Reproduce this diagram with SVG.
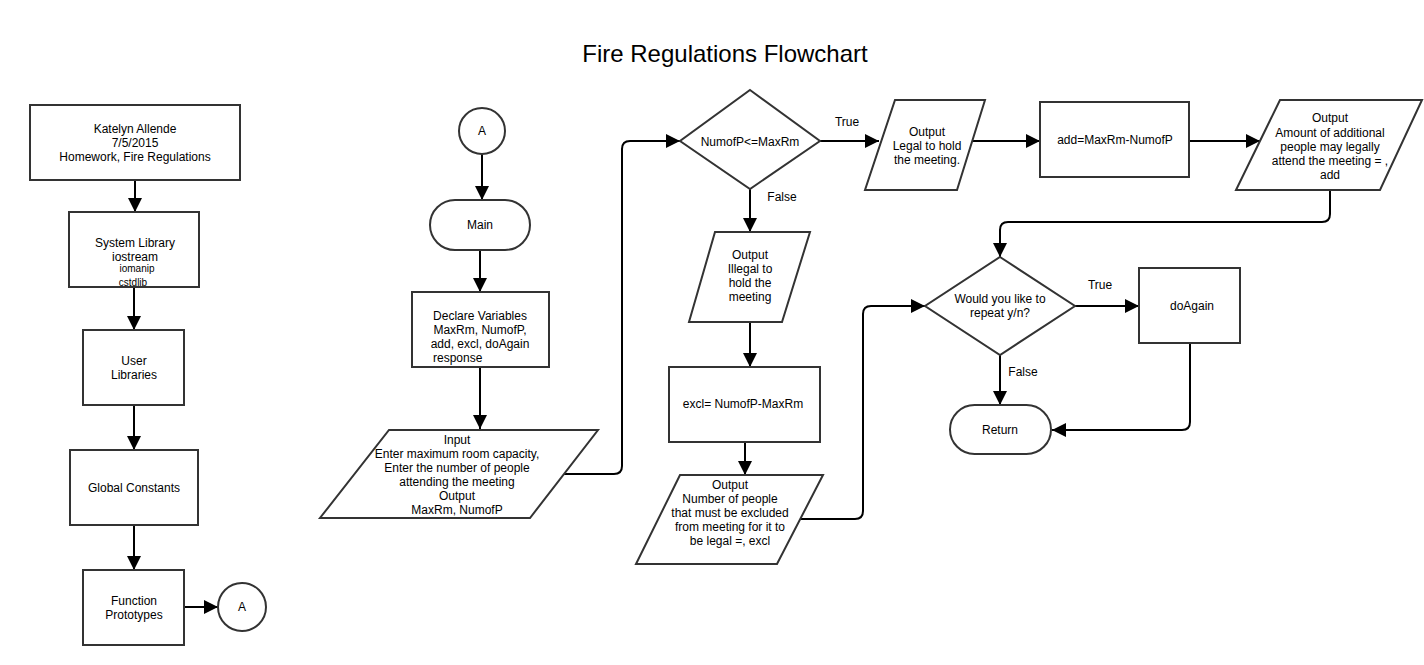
<svg xmlns="http://www.w3.org/2000/svg" width="1424" height="665" viewBox="0 0 1424 665">
<defs>
<marker id="ah" markerUnits="userSpaceOnUse" markerWidth="14" markerHeight="14" viewBox="0 0 14 14" refX="14" refY="7" orient="auto">
<path d="M0,0 L14,7 L0,14 Z" fill="#000"/>
</marker>
</defs>
<style>
.s{fill:#fff;stroke:#333;stroke-width:2}
.c{fill:none;stroke:#000;stroke-width:2;marker-end:url(#ah)}
text{font-family:"Liberation Sans",Arial,sans-serif;font-size:12px;fill:#000;text-anchor:middle}
.sm{font-size:10px}
.t{font-size:24px}
</style>
<rect width="1424" height="665" fill="#fff"/>
<text class="t" x="725" y="62">Fire Regulations Flowchart</text>

<g id="connectors">
<path class="c" d="M135,180 V212"/>
<path class="c" d="M134,287 V330"/>
<path class="c" d="M134,405 V450"/>
<path class="c" d="M134,525 V570"/>
<path class="c" d="M184,607 H218"/>
<path class="c" d="M482,154 V200"/>
<path class="c" d="M480,250 V292"/>
<path class="c" d="M480,367 V429"/>
<path class="c" d="M563,474 H614 Q622,474 622,466 V149 Q622,141 630,141 H680"/>
<path class="c" d="M820,141 H879"/>
<path class="c" d="M972,141 H1040"/>
<path class="c" d="M1189,141 H1260"/>
<path class="c" d="M1330,190 V214 Q1330,222 1322,222 H1008 Q1000,222 1000,230 V257"/>
<path class="c" d="M750,189 V232"/>
<path class="c" d="M750,322 V367"/>
<path class="c" d="M745,442 V475"/>
<path class="c" d="M800,519 H855 Q863,519 863,511 V314 Q863,306 871,306 H925"/>
<path class="c" d="M1075,306 H1139"/>
<path class="c" d="M1000,355 V405"/>
<path class="c" d="M1190,343 V422 Q1190,430 1182,430 H1052"/>
<text x="847" y="126">True</text>
<text x="782" y="201">False</text>
<text x="1100" y="289">True</text>
<text x="1023" y="376">False</text>
</g>

<g id="header">
<rect class="s" x="30" y="105" width="210" height="75"/>
<text x="135" y="133">Katelyn Allende</text>
<text x="135" y="147">7/5/2015</text>
<text x="135" y="161">Homework, Fire Regulations</text>
</g>
<g id="syslib">
<rect class="s" x="69" y="212" width="130" height="75"/>
<text x="135" y="247">System Library</text>
<text x="135" y="261">iostream</text>
<text class="sm" x="137" y="272">iomanip</text>
<text class="sm" x="133" y="286">cstdlib</text>
</g>
<g id="userlib">
<rect class="s" x="83" y="330" width="101" height="75"/>
<text x="134" y="365">User</text>
<text x="134" y="379">Libraries</text>
</g>
<g id="globals">
<rect class="s" x="70" y="450" width="128" height="75"/>
<text x="134" y="492">Global Constants</text>
</g>
<g id="protos">
<rect class="s" x="83" y="570" width="101" height="75"/>
<text x="134" y="605">Function</text>
<text x="134" y="619">Prototypes</text>
</g>
<g id="connA1">
<circle class="s" cx="242" cy="607" r="24"/>
<text x="242" y="611">A</text>
</g>
<g id="connA2">
<circle class="s" cx="482" cy="131" r="23"/>
<text x="482" y="135">A</text>
</g>
<g id="main">
<rect class="s" x="430" y="200" width="100" height="50" rx="25" ry="25"/>
<text x="480" y="229">Main</text>
</g>
<g id="declare">
<rect class="s" x="412" y="292" width="137" height="75"/>
<text x="480" y="320">Declare Variables</text>
<text x="480" y="334">MaxRm, NumofP,</text>
<text x="480" y="348">add, excl, doAgain</text>
<text x="433" y="362" style="text-anchor:start">response</text>
</g>
<g id="input">
<polygon class="s" points="389,430 598,430 530,518 320,518"/>
<text x="457" y="444">Input</text>
<text x="457" y="458">Enter maximum room capacity,</text>
<text x="457" y="472">Enter the number of people</text>
<text x="457" y="486">attending the meeting</text>
<text x="457" y="500">Output</text>
<text x="457" y="514">MaxRm, NumofP</text>
</g>
<g id="decision1">
<polygon class="s" points="750,90 820,141 750,189 680,141"/>
<text x="750" y="146">NumofP&lt;=MaxRm</text>
</g>
<g id="illegal">
<polygon class="s" points="715,232 810,232 782,322 689,322"/>
<text x="750" y="259">Output</text>
<text x="750" y="273">Illegal to</text>
<text x="750" y="287">hold the</text>
<text x="750" y="301">meeting</text>
</g>
<g id="excl">
<rect class="s" x="669" y="367" width="151" height="75"/>
<text x="743" y="408">excl= NumofP-MaxRm</text>
</g>
<g id="outexcl">
<polygon class="s" points="680,475 823,475 777,564 636,564"/>
<text x="730" y="489">Output</text>
<text x="730" y="503">Number of people</text>
<text x="730" y="517">that must be excluded</text>
<text x="730" y="531">from meeting for it to</text>
<text x="730" y="545">be legal =, excl</text>
</g>
<g id="legal">
<polygon class="s" points="895,100 985,100 957,190 865,190"/>
<text x="927" y="136">Output</text>
<text x="927" y="150">Legal to hold</text>
<text x="927" y="164">the meeting.</text>
</g>
<g id="add">
<rect class="s" x="1040" y="102" width="149" height="75"/>
<text x="1115" y="144">add=MaxRm-NumofP</text>
</g>
<g id="outadd">
<polygon class="s" points="1280,100 1422,100 1380,190 1236,190"/>
<text x="1330" y="122">Output</text>
<text x="1330" y="137">Amount of additional</text>
<text x="1330" y="151">people may legally</text>
<text x="1330" y="165">attend the meeting = ,</text>
<text x="1330" y="179">add</text>
</g>
<g id="decision2">
<polygon class="s" points="1000,257 1075,306 1000,355 925,306"/>
<text x="1000" y="303">Would you like to</text>
<text x="1000" y="317">repeat y/n?</text>
</g>
<g id="doagain">
<rect class="s" x="1139" y="268" width="101" height="75"/>
<text x="1192" y="310">doAgain</text>
</g>
<g id="return">
<rect class="s" x="950" y="405" width="101" height="49" rx="24.5" ry="24.5"/>
<text x="1000" y="434">Return</text>
</g>
</svg>
